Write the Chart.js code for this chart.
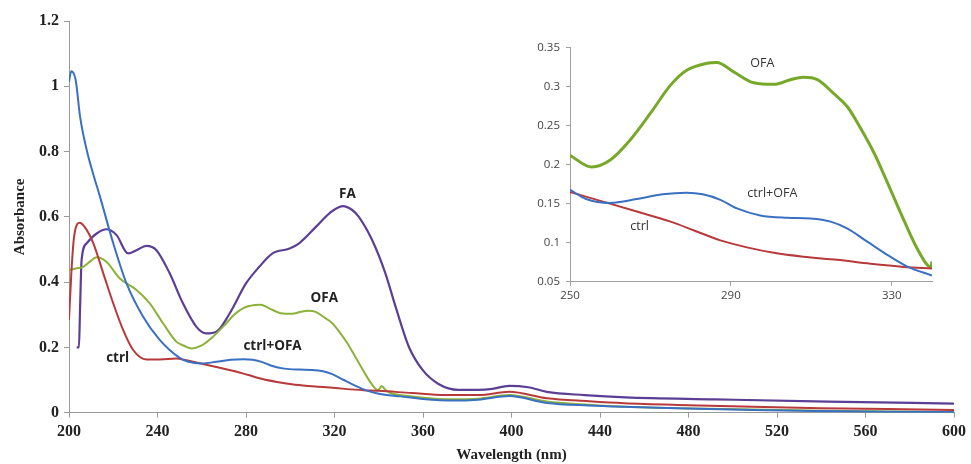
<!DOCTYPE html>
<html>
<head>
<meta charset="utf-8">
<script src="https://cdn.jsdelivr.net/npm/chart.js@4.4.1/dist/chart.umd.min.js"></script>
<style>
  html, body { margin: 0; padding: 0; background: #fff; }
  #wrap { position: relative; width: 971px; height: 464px; overflow: hidden; }
  #mainChart { position: absolute; left: 0; top: 0; }
  #insetChart { position: absolute; left: 520px; top: 0; }
</style>
</head>
<body>
<div id="wrap">
  <canvas id="mainChart" width="971" height="464"></canvas>
  <canvas id="insetChart" width="451" height="320"></canvas>
</div>
<script>
// --- spectres principaux (longueur d'onde en nm, absorbance) ---
const ctrlNm  = [200, 201, 202, 203, 204.7, 207, 211, 215.5, 220, 224.5, 229, 235, 241, 248.6, 252, 258, 266.6, 275, 280.7, 287.4, 294, 300.7, 308, 316.4, 324.7, 333, 340, 355, 370, 385, 399, 416, 435, 451, 480, 509, 540, 570, 600];
const ctrlAbs = [0.284, 0.42, 0.52, 0.565, 0.582, 0.57, 0.519, 0.427, 0.335, 0.253, 0.192, 0.163, 0.163, 0.166, 0.162, 0.153, 0.14, 0.127, 0.116, 0.103, 0.094, 0.087, 0.082, 0.078, 0.073, 0.069, 0.067, 0.06, 0.054, 0.054, 0.064, 0.044, 0.035, 0.029, 0.023, 0.018, 0.014, 0.011, 0.008];

const mixNm  = [200, 201, 203, 205, 208, 211, 214, 220, 226, 233.5, 241, 250, 254, 260, 266.6, 273, 279, 283, 287.4, 291.5, 297.3, 304, 309.8, 314.8, 319, 324, 329, 334, 340, 350, 360, 373.6, 385, 399, 416, 435, 451, 480, 509, 540, 570, 600];
const mixAbs = [1.014, 1.046, 1.02, 0.907, 0.805, 0.73, 0.662, 0.519, 0.396, 0.294, 0.223, 0.168, 0.156, 0.151, 0.156, 0.162, 0.164, 0.162, 0.155, 0.144, 0.135, 0.132, 0.131, 0.127, 0.118, 0.101, 0.084, 0.069, 0.058, 0.05, 0.042, 0.037, 0.04, 0.051, 0.03, 0.022, 0.018, 0.013, 0.008, 0.005, 0.003, 0.002];

const ofaNm  = [200, 203, 206.5, 210, 212.5, 217, 223, 230.5, 236.5, 242.5, 248.6, 252, 255.4, 260, 265, 270, 275, 279, 284, 286.5, 290.7, 295.7, 300.7, 304.8, 308, 311.5, 315.6, 319, 322, 325.6, 329, 333, 337, 339.7, 340.5, 341.3, 343, 345, 355, 373.6, 385, 399, 416, 435, 451, 480, 509, 540, 570, 600];
const ofaAbs = [0.437, 0.442, 0.447, 0.466, 0.476, 0.462, 0.411, 0.376, 0.335, 0.274, 0.217, 0.205, 0.197, 0.206, 0.232, 0.266, 0.302, 0.321, 0.33, 0.331, 0.319, 0.305, 0.303, 0.309, 0.312, 0.309, 0.291, 0.274, 0.249, 0.215, 0.176, 0.129, 0.086, 0.069, 0.075, 0.082, 0.07, 0.061, 0.05, 0.041, 0.043, 0.054, 0.034, 0.024, 0.018, 0.013, 0.01, 0.006, 0.004, 0.002];

const faNm  = [203.5, 204.5, 205, 205.7, 208, 212.5, 217, 221.5, 226.7, 230.5, 235, 239.5, 245.5, 251.5, 257.6, 262, 266.6, 272.6, 280, 286, 292, 299.7, 304, 311.7, 317.7, 323.7, 328, 331, 337, 343, 347.6, 353.6, 359.8, 367, 376, 385, 390.5, 399, 407.5, 416, 433, 451.5, 492, 543, 600];
const faAbs = [0.2, 0.2, 0.32, 0.468, 0.519, 0.549, 0.562, 0.544, 0.488, 0.498, 0.511, 0.498, 0.427, 0.335, 0.263, 0.243, 0.248, 0.304, 0.396, 0.447, 0.488, 0.503, 0.519, 0.57, 0.611, 0.633, 0.621, 0.6, 0.529, 0.427, 0.325, 0.202, 0.131, 0.088, 0.07, 0.07, 0.072, 0.082, 0.078, 0.064, 0.054, 0.047, 0.041, 0.034, 0.028];

// --- encart 250-340 nm ---
const inCtrlNm  = [250, 258, 266.6, 275, 280.7, 287.4, 294, 300.7, 308, 316.4, 324.7, 333, 340];
const inCtrlAbs = [0.165, 0.153, 0.14, 0.127, 0.116, 0.103, 0.094, 0.087, 0.082, 0.078, 0.073, 0.069, 0.067];

const inMixNm  = [250, 254, 260, 266.6, 273, 279, 283, 287.4, 291.5, 297.3, 304, 309.8, 314.8, 319, 324, 329, 334, 340];
const inMixAbs = [0.168, 0.156, 0.151, 0.156, 0.162, 0.164, 0.162, 0.155, 0.144, 0.135, 0.132, 0.131, 0.127, 0.118, 0.101, 0.084, 0.069, 0.058];

const inOfaNm  = [250, 255.4, 260, 265, 270, 275, 279, 284, 286.5, 290.7, 295.7, 300.7, 304.8, 308, 311.5, 315.6, 319, 322, 325.6, 329, 333, 337, 339.7, 340];
const inOfaAbs = [0.212, 0.197, 0.206, 0.232, 0.266, 0.302, 0.321, 0.33, 0.331, 0.319, 0.305, 0.303, 0.309, 0.312, 0.309, 0.291, 0.274, 0.249, 0.215, 0.176, 0.129, 0.086, 0.069, 0.076];

// tick labels
const mainXTicks = [200, 240, 280, 320, 360, 400, 440, 480, 520, 560, 600];
const insetXTicks = [250, 290, 330];

// étiquettes des courbes (texte, nm, absorbance)
const mainLabels = [
  { text: 'FA', x: 325.8, y: 0.67 },
  { text: 'OFA', x: 315.4, y: 0.351 },
  { text: 'ctrl+OFA', x: 292, y: 0.204 },
  { text: 'ctrl', x: 222, y: 0.168 }
];
const insetLabels = [
  { text: 'OFA', x: 297.8, y: 0.33 },
  { text: 'ctrl+OFA', x: 300.3, y: 0.163 },
  { text: 'ctrl', x: 267.3, y: 0.121 }
];

const RED = '#b8393a', BLUE = '#3a70c2', GREEN = '#8cb23b', PURPLE = '#5b3f94';

function pts(xs, ys) {
  return xs.map((x, i) => ({ x: x, y: ys[i] }));
}

function serie(xs, ys, color, width) {
  return {
    data: pts(xs, ys),
    borderColor: color,
    borderWidth: width,
    pointRadius: 0,
    fill: false,
    cubicInterpolationMode: 'monotone'
  };
}

// plugin pour écrire les noms des courbes
const labelPlugin = {
  id: 'seriesLabels',
  afterDatasetsDraw(chart, args, opts) {
    const ctx = chart.ctx;
    ctx.save();
    ctx.font = opts.font;
    ctx.fillStyle = opts.color;
    ctx.textAlign = 'center';
    ctx.textBaseline = 'middle';
    opts.items.forEach(it => {
      ctx.fillText(it.text, chart.scales.x.getPixelForValue(it.x), chart.scales.y.getPixelForValue(it.y));
    });
    ctx.restore();
  }
};

const fmt = v => String(+v.toFixed(2));

// graphique principal
new Chart(document.getElementById('mainChart'), {
  type: 'line',
  data: {
    datasets: [
      serie(mixNm, mixAbs, BLUE, 2),
      serie(ctrlNm, ctrlAbs, RED, 2),
      serie(ofaNm, ofaAbs, GREEN, 2),
      serie(faNm, faAbs, PURPLE, 2.2)
    ]
  },
  options: {
    responsive: false,
    animation: false,
    devicePixelRatio: 1,
    layout: { padding: { left: 0, right: 15, top: 21, bottom: 0 } },
    plugins: {
      legend: { display: false },
      tooltip: { enabled: false },
      seriesLabels: { items: mainLabels, font: 'bold 13.5px "Open Sans", "Liberation Sans", sans-serif', color: '#222' }
    },
    scales: {
      x: {
        type: 'linear',
        min: 200,
        max: 600,
        afterFit: s => { s.height = 51.3; },
        afterBuildTicks: s => { s.ticks = mainXTicks.map(v => ({ value: v })); },
        ticks: { font: { family: '"Liberation Serif", serif', size: 16, weight: 'bold' }, color: '#222', padding: 5, maxRotation: 0, callback: fmt },
        grid: { drawOnChartArea: false, drawTicks: true, tickLength: 5, color: '#9a9a9a' },
        border: { display: true, color: '#9a9a9a', width: 1 },
        title: { display: true, text: 'Wavelength (nm)', font: { family: '"Liberation Serif", serif', size: 15, weight: 'bold' }, color: '#222', padding: { top: 0, bottom: 0 } }
      },
      y: {
        min: 0,
        max: 1.2,
        afterFit: s => { s.width = 69; },
        ticks: { stepSize: 0.2, font: { family: '"Liberation Serif", serif', size: 16, weight: 'bold' }, color: '#222', padding: 5, callback: fmt },
        grid: { drawOnChartArea: false, drawTicks: true, tickLength: 5, color: '#9a9a9a' },
        border: { display: true, color: '#9a9a9a', width: 1 },
        title: { display: true, text: 'Absorbance', font: { family: '"Liberation Serif", serif', size: 15, weight: 'bold' }, color: '#222', padding: { top: 11, bottom: 0 } }
      }
    }
  },
  plugins: [labelPlugin]
});

// encart (zoom 250-340 nm)
new Chart(document.getElementById('insetChart'), {
  type: 'line',
  data: {
    datasets: [
      serie(inMixNm, inMixAbs, BLUE, 2),
      serie(inCtrlNm, inCtrlAbs, RED, 2),
      serie(inOfaNm, inOfaAbs, '#78a82a', 3)
    ]
  },
  options: {
    responsive: false,
    animation: false,
    devicePixelRatio: 1,
    layout: { padding: { left: 0, right: 39, top: 47.7, bottom: 0 } },
    plugins: {
      legend: { display: false },
      tooltip: { enabled: false },
      seriesLabels: { items: insetLabels, font: '12.5px "Open Sans", "Liberation Sans", sans-serif', color: '#333' }
    },
    scales: {
      x: {
        type: 'linear',
        min: 250,
        max: 340,
        afterFit: s => { s.height = 38.3; },
        afterBuildTicks: s => { s.ticks = insetXTicks.map(v => ({ value: v })); },
        ticks: { font: { family: '"Open Sans", "Liberation Sans", sans-serif', size: 11.5 }, color: '#444', padding: 3, maxRotation: 0, callback: fmt },
        grid: { drawOnChartArea: false, drawTicks: true, tickLength: 4, color: '#a0a0a0' },
        border: { display: true, color: '#a0a0a0', width: 1 }
      },
      y: {
        min: 0.05,
        max: 0.35,
        afterFit: s => { s.width = 50; },
        ticks: { stepSize: 0.05, font: { family: '"Open Sans", "Liberation Sans", sans-serif', size: 11.5 }, color: '#444', padding: 6, callback: fmt },
        grid: { drawOnChartArea: false, drawTicks: true, tickLength: 4, color: '#a0a0a0' },
        border: { display: true, color: '#a0a0a0', width: 1 }
      }
    }
  },
  plugins: [labelPlugin]
});
</script>
</body>
</html>
